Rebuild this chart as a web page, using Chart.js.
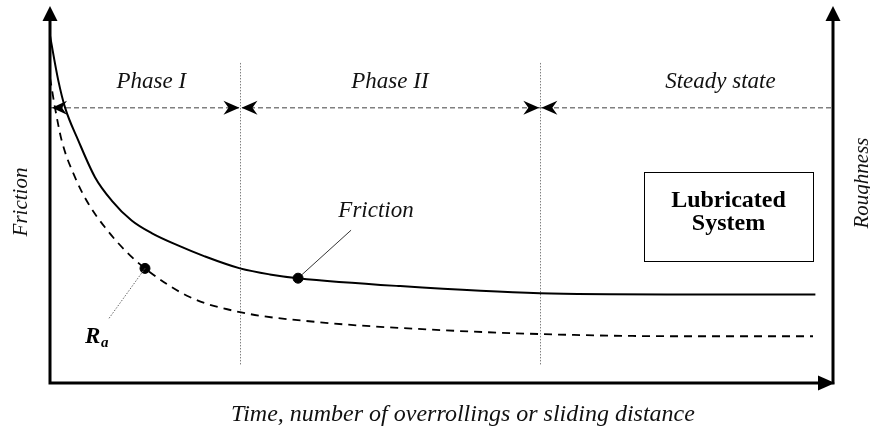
<!DOCTYPE html>
<html>
<head>
<meta charset="utf-8">
<script src="https://cdn.jsdelivr.net/npm/chart.js@4/dist/chart.umd.min.js"></script>
<style>
  html, body { margin: 0; padding: 0; background: #fff; }
  #wrap { width: 870px; height: 431px; }
</style>
</head>
<body>
<div id="wrap"><canvas id="chart" width="870" height="431"></canvas></div>
<script>
// schematic units: x 0..100 (time), y 0..100 (friction / roughness)
const timeF    = [0, 1.06, 1.91, 3.61, 5.73, 7.86, 10.4, 13.0, 16.3, 19.7, 24.2, 28.0, 31.6, 44.6, 62.4, 78.6, 97.5];
const friction = [92.1, 80.2, 73.1, 64.3, 54.6, 48.4, 43.1, 39.7, 36.5, 33.6, 30.4, 28.8, 27.8, 25.7, 23.8, 23.5, 23.5];

const timeR     = [0, 0.64, 1.49, 3.18, 4.88, 7.0, 9.55, 12.1, 17.8, 24.2, 34.4, 44.6, 62.2, 80.3, 97.2];
const roughness = [81.0, 73.0, 64.3, 54.6, 47.6, 41.3, 35.2, 30.4, 22.8, 18.8, 16.1, 14.6, 13.0, 12.4, 12.4];

const phaseBounds = [24.2, 62.4];
const phaseNames  = ["Phase I", "Phase II", "Steady state"];
const phaseLabelX = [12.9, 43.3, 85.4];
const guideLevel  = 73.0;

const frictionMark = [31.6, 27.8];
const roughMark    = [12.1, 30.4];

const SERIF = "'Liberation Serif', 'DejaVu Serif', serif";

function toPts(xs, ys) {
  return xs.map((x, i) => ({ x: x, y: ys[i] }));
}

// filled arrowhead, tip at (x,y), pointing along angle
function arrowHead(ctx, x, y, angle, len, half, barb) {
  ctx.save();
  ctx.translate(x, y);
  ctx.rotate(angle);
  ctx.beginPath();
  ctx.moveTo(0, 0);
  ctx.lineTo(-len, -half);
  ctx.lineTo(-len + barb, 0);
  ctx.lineTo(-len, half);
  ctx.closePath();
  ctx.fillStyle = "#000";
  ctx.fill();
  ctx.restore();
}

const schematicPlugin = {
  id: "schematic",
  beforeDatasetsDraw(chart) {
    const { ctx, chartArea: a, scales: { x, y } } = chart;
    ctx.save();

    // horizontal guide
    const gy = y.getPixelForValue(guideLevel);
    ctx.strokeStyle = "#808080";
    ctx.lineWidth = 1.5;
    ctx.setLineDash([5, 3]);
    ctx.beginPath();
    ctx.moveTo(a.left, gy);
    ctx.lineTo(a.right - 2, gy);
    ctx.stroke();

    // phase boundaries
    ctx.lineWidth = 1;
    ctx.setLineDash([1.5, 1.5]);
    phaseBounds.forEach(b => {
      const px = Math.round(x.getPixelForValue(b)) + 0.5;
      ctx.beginPath();
      ctx.moveTo(px, y.getPixelForValue(84.9));
      ctx.lineTo(px, y.getPixelForValue(4.8));
      ctx.stroke();
    });
    ctx.setLineDash([]);
    ctx.restore();
  },
  afterDatasetsDraw(chart) {
    const { ctx, chartArea: a, scales: { x, y } } = chart;
    ctx.save();

    // axes
    const x0 = a.left, yb = a.bottom, xr = a.right - 2;
    ctx.strokeStyle = "#000";
    ctx.lineWidth = 3;
    ctx.beginPath();
    ctx.moveTo(x0, a.top + 12);
    ctx.lineTo(x0, yb);
    ctx.lineTo(a.right - 12, yb);
    ctx.moveTo(xr, yb + 1.5);
    ctx.lineTo(xr, a.top + 12);
    ctx.stroke();
    arrowHead(ctx, x0, a.top, -Math.PI / 2, 15, 7.5, 0);
    arrowHead(ctx, xr, a.top, -Math.PI / 2, 15, 7.5, 0);
    arrowHead(ctx, a.right, yb, 0, 17, 7.5, 0);

    // guide arrows
    const gy = y.getPixelForValue(guideLevel);
    arrowHead(ctx, x0 + 2, gy, Math.PI, 15, 7, 5);
    phaseBounds.forEach(b => {
      const px = x.getPixelForValue(b);
      arrowHead(ctx, px - 0.5, gy, 0, 16, 7, 5);
      arrowHead(ctx, px + 1.5, gy, Math.PI, 16, 7, 5);
    });

    // phase labels
    ctx.fillStyle = "#111";
    ctx.font = "italic 23px " + SERIF;
    ctx.textAlign = "center";
    ctx.textBaseline = "alphabetic";
    phaseNames.forEach((n, i) => {
      ctx.fillText(n, x.getPixelForValue(phaseLabelX[i]), 88);
    });

    // axis titles
    ctx.font = "italic 24px " + SERIF;
    ctx.fillText("Time, number of overrollings or sliding distance", 463, 421);
    ctx.font = "italic 21px " + SERIF;
    ctx.save();
    ctx.translate(27, 202);
    ctx.rotate(-Math.PI / 2);
    ctx.fillText("Friction", 0, 0);
    ctx.restore();
    ctx.save();
    ctx.translate(868, 183);
    ctx.rotate(-Math.PI / 2);
    ctx.fillText("Roughness", 0, 0);
    ctx.restore();

    // friction annotation
    const fx = x.getPixelForValue(frictionMark[0]);
    const fy = y.getPixelForValue(frictionMark[1]);
    ctx.strokeStyle = "#000";
    ctx.lineWidth = 0.8;
    ctx.beginPath();
    ctx.moveTo(fx, fy);
    ctx.lineTo(fx + 53, fy - 48);
    ctx.stroke();
    ctx.font = "italic 23px " + SERIF;
    ctx.fillText("Friction", fx + 78, fy - 61);

    // Ra annotation
    const rx = x.getPixelForValue(roughMark[0]);
    const ry = y.getPixelForValue(roughMark[1]);
    ctx.strokeStyle = "#666";
    ctx.lineWidth = 1;
    ctx.setLineDash([1.5, 1.5]);
    ctx.beginPath();
    ctx.moveTo(rx, ry);
    ctx.lineTo(rx - 36, ry + 50);
    ctx.stroke();
    ctx.setLineDash([]);
    ctx.textAlign = "left";
    ctx.font = "italic bold 23px " + SERIF;
    ctx.fillStyle = "#000";
    ctx.fillText("R", rx - 60, ry + 75);
    ctx.font = "italic bold 15px " + SERIF;
    ctx.fillText("a", rx - 44, ry + 79);

    // legend box
    ctx.strokeStyle = "#000";
    ctx.lineWidth = 1;
    ctx.strokeRect(644.5, 172.5, 169, 89);
    ctx.textAlign = "center";
    ctx.font = "bold 24px " + SERIF;
    ctx.fillText("Lubricated", 728.5, 207);
    ctx.fillText("System", 728.5, 230);

    ctx.restore();
  }
};

new Chart(document.getElementById("chart").getContext("2d"), {
  type: "line",
  data: {
    datasets: [
      {
        label: "Friction",
        data: toPts(timeF, friction),
        borderColor: "#000",
        borderWidth: 2,
        pointRadius: 0,
        cubicInterpolationMode: "monotone",
        fill: false
      },
      {
        label: "Ra",
        data: toPts(timeR, roughness),
        borderColor: "#000",
        borderWidth: 1.8,
        borderDash: [8, 6],
        pointRadius: 0,
        cubicInterpolationMode: "monotone",
        fill: false
      },
      {
        label: "marks",
        data: [
          { x: frictionMark[0], y: frictionMark[1] },
          { x: roughMark[0], y: roughMark[1] }
        ],
        showLine: false,
        pointRadius: 5,
        pointBackgroundColor: "#000",
        pointBorderColor: "#000"
      }
    ]
  },
  options: {
    responsive: false,
    animation: false,
    layout: { padding: { left: 50, top: 5, right: 35, bottom: 48 } },
    plugins: { legend: { display: false }, tooltip: { enabled: false } },
    scales: {
      x: { type: "linear", min: 0, max: 100, display: false },
      y: { type: "linear", min: 0, max: 100, display: false }
    }
  },
  plugins: [schematicPlugin]
});
</script>
</body>
</html>
